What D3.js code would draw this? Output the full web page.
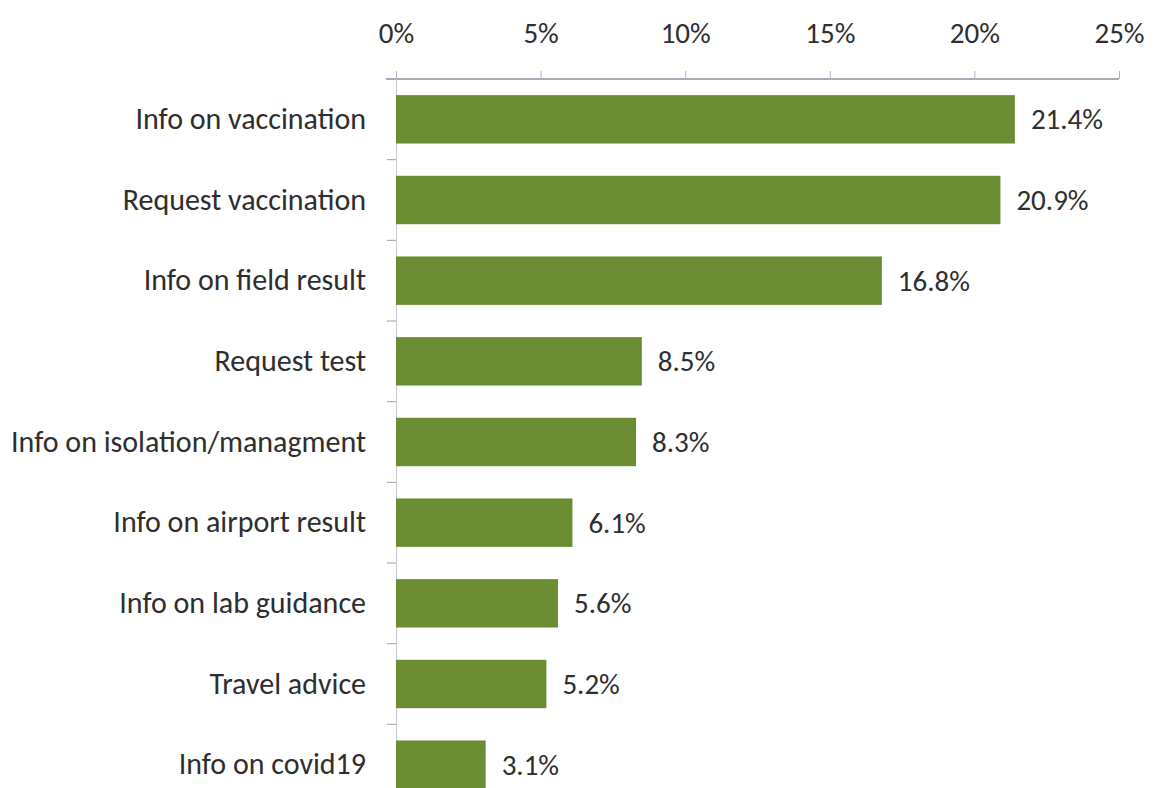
<!DOCTYPE html>
<html>
<head>
<meta charset="utf-8">
<script src="https://cdn.jsdelivr.net/npm/d3@7"></script>
<style>
  html, body { margin: 0; padding: 0; background: #fff; }
  svg { display: block; }
  svg text { font-family: Carlito, "Liberation Sans", Arial, sans-serif; }
</style>
</head>
<body>
<div id="chart"></div>
<script>
const categories = [
    "Info on vaccination",
    "Request vaccination",
    "Info on field result",
    "Request test",
    "Info on isolation/managment",
    "Info on airport result",
    "Info on lab guidance",
    "Travel advice",
    "Info on covid19"
];
const shares = [21.4, 20.9, 16.8, 8.5, 8.3, 6.1, 5.6, 5.2, 3.1];
const tickValues = [0, 5, 10, 15, 20, 25];

const width = 1166, height = 788;

const svg = d3.select("#chart").append("svg")
    .attr("width", width)
    .attr("height", height);

const x = d3.scaleLinear().domain([0, 25]).range([396, 1119]);
const y = d3.scaleBand()
    .domain(categories)
    .range([79, 805])
    .paddingInner(0.4)
    .paddingOuter(0.2);

// top axis
const xAxis = svg.append("g")
    .attr("transform", "translate(0,79)")
    .call(d3.axisTop(x).tickValues(tickValues).tickSize(8).tickSizeOuter(0).tickFormat(d => d + "%"));
xAxis.attr("font-family", null);
xAxis.select(".domain").attr("stroke", "#8a8f9c").attr("stroke-width", 1.5)
    .attr("d", "M386,0H1119");
xAxis.selectAll(".tick line").attr("stroke", "#b0b4bc");
xAxis.selectAll(".tick text")
    .attr("y", -36)
    .attr("fill", "#2e2e2e")
    .style("font-size", "29px");

// left axis
const yAxis = svg.append("g")
    .attr("transform", "translate(396,0)")
    .call(d3.axisLeft(y).tickSize(0).tickPadding(30));
yAxis.attr("font-family", null);
yAxis.select(".domain").attr("stroke", "#c8ccd2");
yAxis.selectAll(".tick text")
    .attr("fill", "#2e2e2e")
    .style("font-size", "30px");

// separators between categories
svg.append("g")
    .selectAll("line")
    .data(categories.slice(1))
    .join("line")
    .attr("x1", 387)
    .attr("x2", 396)
    .attr("y1", d => y(d) - y.step() * y.paddingInner() / 2)
    .attr("y2", d => y(d) - y.step() * y.paddingInner() / 2)
    .attr("stroke", "#9aa0aa");

// bars
svg.append("g")
    .selectAll("rect")
    .data(shares)
    .join("rect")
    .attr("x", x(0))
    .attr("y", (d, i) => y(categories[i]))
    .attr("width", d => x(d) - x(0))
    .attr("height", y.bandwidth())
    .attr("fill", "#6c8c34");

// value labels
svg.append("g")
    .selectAll("text")
    .data(shares)
    .join("text")
    .attr("x", d => x(d) + 16)
    .attr("y", (d, i) => y(categories[i]) + y.bandwidth() / 2)
    .attr("dy", "0.35em")
    .attr("fill", "#2e2e2e")
    .style("font-size", "29px")
    .text(d => d.toFixed(1) + "%");
</script>
</body>
</html>
